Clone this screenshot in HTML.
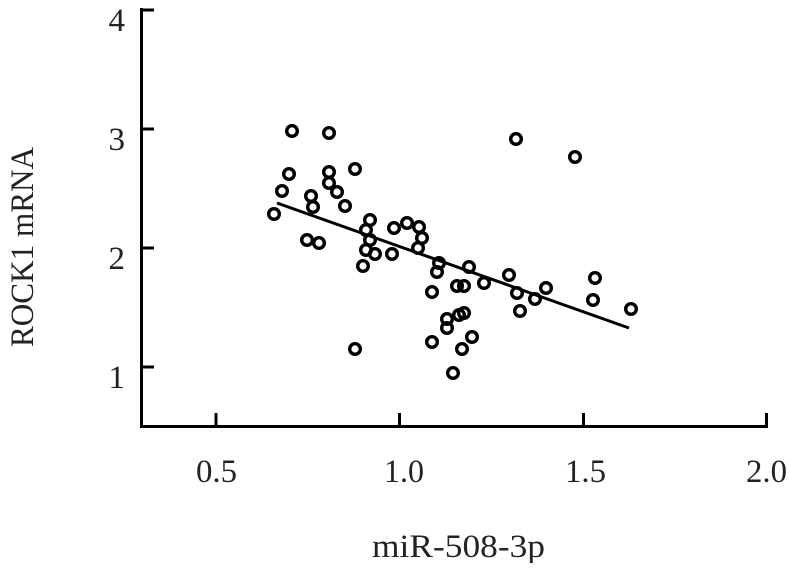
<!DOCTYPE html>
<html><head><style>
html,body{margin:0;padding:0;background:#fff;}
svg text{font-family:"Liberation Serif",serif;fill:#222;}
</style></head><body>
<svg width="790" height="563" viewBox="0 0 790 563" xmlns="http://www.w3.org/2000/svg">
<g stroke="#000" stroke-width="3" fill="none">
<path d="M141.5 8 V426.5 H768"/>
<path d="M141 10 H154 M141 129 H154 M141 248 H154 M141 367 H154"/>
<path d="M216 426 V413 M399.5 426 V413 M583.5 426 V413 M766.5 426 V413"/>
<line x1="277" y1="203" x2="629" y2="328"/>
</g>
<g stroke="#000" stroke-width="3.4" fill="none">
<circle cx="292" cy="131" r="5.3"/><circle cx="329" cy="133" r="5.3"/><circle cx="516" cy="139" r="5.3"/><circle cx="575" cy="157" r="5.3"/>
<circle cx="289" cy="174" r="5.3"/><circle cx="329" cy="172" r="5.3"/><circle cx="355" cy="169" r="5.3"/><circle cx="282" cy="191" r="5.3"/>
<circle cx="329" cy="183" r="5.3"/><circle cx="337" cy="192" r="5.3"/><circle cx="311" cy="196" r="5.3"/><circle cx="313" cy="207" r="5.3"/>
<circle cx="345" cy="206" r="5.3"/><circle cx="274" cy="214" r="5.3"/><circle cx="370" cy="220" r="5.3"/><circle cx="394" cy="228" r="5.3"/>
<circle cx="407" cy="223" r="5.3"/><circle cx="419" cy="227" r="5.3"/><circle cx="366" cy="230" r="5.3"/><circle cx="422" cy="238" r="5.3"/>
<circle cx="307" cy="240" r="5.3"/><circle cx="319" cy="243" r="5.3"/><circle cx="370" cy="240" r="5.3"/><circle cx="418" cy="248" r="5.3"/>
<circle cx="366" cy="250" r="5.3"/><circle cx="375" cy="254" r="5.3"/><circle cx="392" cy="254" r="5.3"/><circle cx="363" cy="266" r="5.3"/>
<circle cx="439" cy="263" r="5.3"/><circle cx="469" cy="267" r="5.3"/><circle cx="437" cy="272" r="5.3"/><circle cx="509" cy="275" r="5.3"/>
<circle cx="595" cy="278" r="5.3"/><circle cx="457" cy="286" r="5.3"/><circle cx="464" cy="286" r="5.3"/><circle cx="484" cy="283" r="5.3"/>
<circle cx="546" cy="288" r="5.3"/><circle cx="517" cy="293" r="5.3"/><circle cx="432" cy="292" r="5.3"/><circle cx="535" cy="299" r="5.3"/>
<circle cx="593" cy="300" r="5.3"/><circle cx="631" cy="309" r="5.3"/><circle cx="520" cy="311" r="5.3"/><circle cx="464" cy="313" r="5.3"/>
<circle cx="459" cy="315" r="5.3"/><circle cx="447" cy="319" r="5.3"/><circle cx="447" cy="328" r="5.3"/><circle cx="472" cy="337" r="5.3"/>
<circle cx="432" cy="342" r="5.3"/><circle cx="355" cy="349" r="5.3"/><circle cx="462" cy="349" r="5.3"/><circle cx="453" cy="373" r="5.3"/>
</g>
<g font-size="33">
<text x="125" y="31" text-anchor="end">4</text>
<text x="125" y="150" text-anchor="end">3</text>
<text x="125" y="269" text-anchor="end">2</text>
<text x="125" y="388" text-anchor="end">1</text>
<text x="196" y="482" textLength="41" lengthAdjust="spacingAndGlyphs">0.5</text>
<text x="384" y="482" textLength="40" lengthAdjust="spacingAndGlyphs">1.0</text>
<text x="565" y="482" textLength="41" lengthAdjust="spacingAndGlyphs">1.5</text>
<text x="746" y="482" textLength="41" lengthAdjust="spacingAndGlyphs">2.0</text>
<text x="372" y="557" textLength="173" lengthAdjust="spacingAndGlyphs">miR-508-3p</text>
<text transform="translate(33,347) rotate(-90)" textLength="200" lengthAdjust="spacingAndGlyphs">ROCK1 mRNA</text>
</g>
</svg>
</body></html>
